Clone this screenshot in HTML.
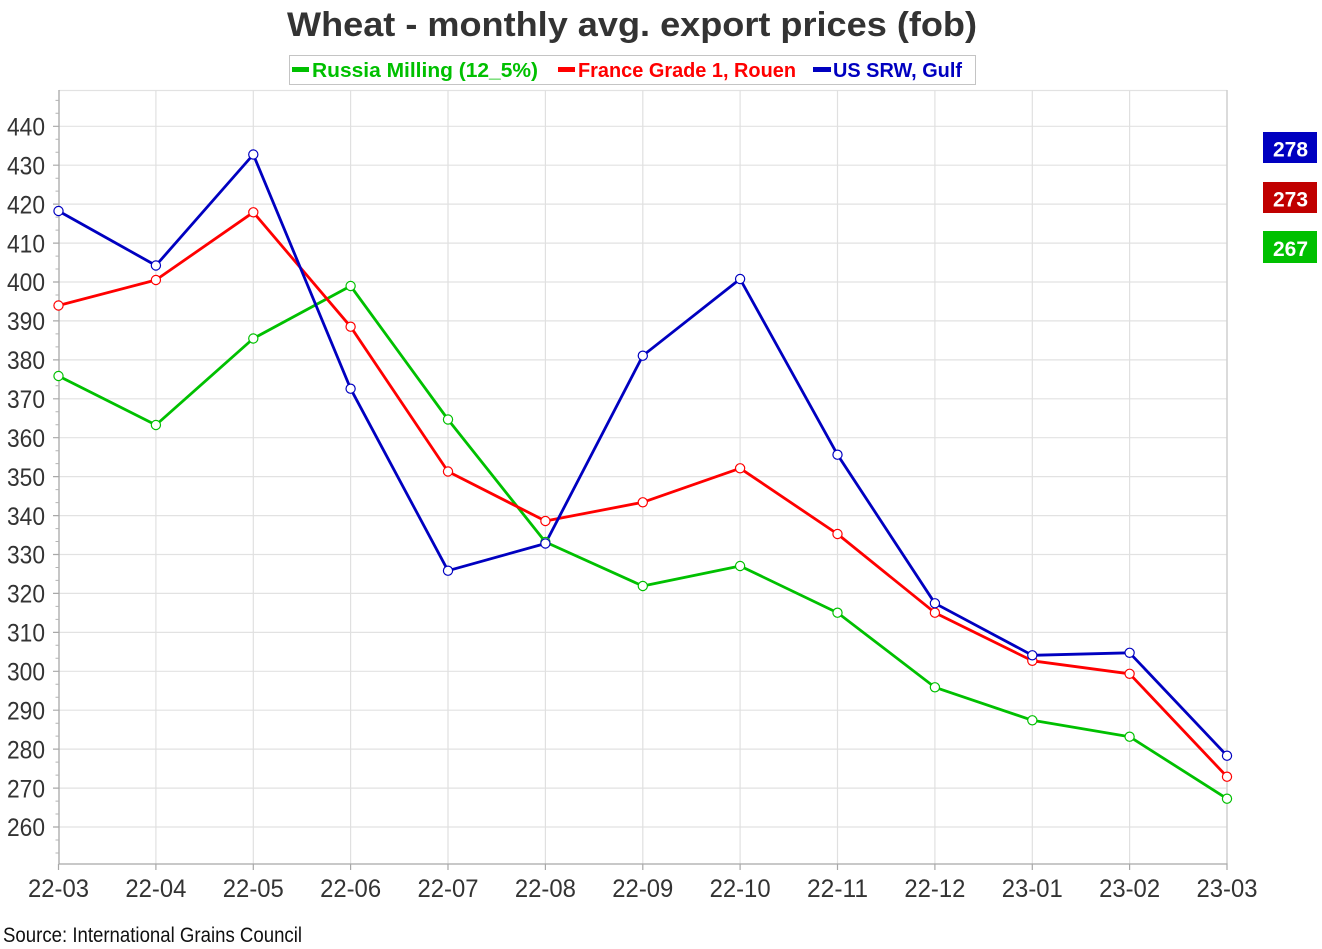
<!DOCTYPE html>
<html>
<head>
<meta charset="utf-8">
<style>
  html, body { margin:0; padding:0; background:#fff; }
  svg { display:block; }
  text { font-family: "Liberation Sans", "DejaVu Sans", sans-serif; }
</style>
</head>
<body>
<svg width="1322" height="949" viewBox="0 0 1322 949" xmlns="http://www.w3.org/2000/svg">
  <rect x="0" y="0" width="1322" height="949" fill="#fff"/>

  <!-- Title -->
  <text x="287" y="36" font-size="34" font-weight="bold" fill="#333" textLength="690" lengthAdjust="spacingAndGlyphs">Wheat - monthly avg. export prices (fob)</text>

  <!-- Legend -->
  <rect x="289.5" y="55.5" width="686" height="29" fill="#fff" stroke="#c4c4c4" stroke-width="1"/>
  <rect x="292" y="67" width="17" height="5" fill="#00c000"/>
  <text x="312" y="77" font-size="20" font-weight="bold" fill="#00c000" textLength="226" lengthAdjust="spacingAndGlyphs">Russia Milling (12_5%)</text>
  <rect x="558" y="67" width="17" height="5" fill="#ff0000"/>
  <text x="578" y="77" font-size="20" font-weight="bold" fill="#ff0000" textLength="218" lengthAdjust="spacingAndGlyphs">France Grade 1, Rouen</text>
  <rect x="813" y="67" width="18" height="5" fill="#0000c0"/>
  <text x="833" y="77" font-size="20" font-weight="bold" fill="#0000c0" textLength="129" lengthAdjust="spacingAndGlyphs">US SRW, Gulf</text>

  <!-- Horizontal grid -->
  <g stroke="#e2e2e2" stroke-width="1.2">
    <path d="M59 90.5H1227M59 126.3H1227M59 165.2H1227M59 204.1H1227M59 243.1H1227M59 282H1227M59 320.9H1227M59 359.9H1227M59 398.8H1227M59 437.7H1227M59 476.6H1227M59 515.6H1227M59 554.5H1227M59 593.4H1227M59 632.4H1227M59 671.3H1227M59 710.2H1227M59 749.1H1227M59 788.1H1227M59 827H1227"/>
  </g>
  <!-- Vertical grid -->
  <g stroke="#e0e0e0" stroke-width="1.2">
    <path d="M155.9 90V864M253.3 90V864M350.6 90V864M448 90V864M545.4 90V864M642.8 90V864M740.1 90V864M837.5 90V864M934.9 90V864M1032.3 90V864M1129.6 90V864"/>
  </g>
  <line x1="1227" y1="90" x2="1227" y2="864" stroke="#cfcfcf" stroke-width="1.5"/>

  <!-- Axes -->
  <line x1="59" y1="90" x2="59" y2="864.5" stroke="#a8a8a8" stroke-width="1.3"/>
  <line x1="58.5" y1="864" x2="1227.5" y2="864" stroke="#a8a8a8" stroke-width="1.3"/>
  <path stroke="#a8a8a8" stroke-width="1.2" d="M53 126.3H59M53 165.2H59M53 204.1H59M53 243.1H59M53 282H59M53 320.9H59M53 359.9H59M53 398.8H59M53 437.7H59M53 476.6H59M53 515.6H59M53 554.5H59M53 593.4H59M53 632.4H59M53 671.3H59M53 710.2H59M53 749.1H59M53 788.1H59M53 827H59"/>
  <path stroke="#b4b4b4" stroke-width="1" d="M55.5 100.4H59M55.5 113.3H59M55.5 139.3H59M55.5 152.3H59M55.5 178.2H59M55.5 191.1H59M55.5 217.1H59M55.5 230.1H59M55.5 256.1H59M55.5 269H59M55.5 295H59M55.5 308H59M55.5 333.9H59M55.5 346.9H59M55.5 372.9H59M55.5 385.8H59M55.5 411.8H59M55.5 424.7H59M55.5 450.7H59M55.5 463.6H59M55.5 489.6H59M55.5 502.6H59M55.5 528.6H59M55.5 541.5H59M55.5 567.5H59M55.5 580.4H59M55.5 606.4H59M55.5 619.4H59M55.5 645.3H59M55.5 658.3H59M55.5 684.3H59M55.5 697.2H59M55.5 723.2H59M55.5 736.1H59M55.5 762.1H59M55.5 775.1H59M55.5 801.1H59M55.5 814H59M55.5 840H59M55.5 853H59"/>
  <path stroke="#a8a8a8" stroke-width="1.2" d="M58.5 864V870M155.9 864V870M253.3 864V870M350.6 864V870M448 864V870M545.4 864V870M642.8 864V870M740.1 864V870M837.5 864V870M934.9 864V870M1032.3 864V870M1129.6 864V870M1227 864V870"/>

  <!-- Y labels -->
  <g font-size="25" fill="#333" text-anchor="end">
    <text x="45" y="135.5" textLength="38" lengthAdjust="spacingAndGlyphs">440</text>
    <text x="45" y="174.4" textLength="38" lengthAdjust="spacingAndGlyphs">430</text>
    <text x="45" y="213.3" textLength="38" lengthAdjust="spacingAndGlyphs">420</text>
    <text x="45" y="252.3" textLength="38" lengthAdjust="spacingAndGlyphs">410</text>
    <text x="45" y="291.2" textLength="38" lengthAdjust="spacingAndGlyphs">400</text>
    <text x="45" y="330.1" textLength="38" lengthAdjust="spacingAndGlyphs">390</text>
    <text x="45" y="369.1" textLength="38" lengthAdjust="spacingAndGlyphs">380</text>
    <text x="45" y="408" textLength="38" lengthAdjust="spacingAndGlyphs">370</text>
    <text x="45" y="446.9" textLength="38" lengthAdjust="spacingAndGlyphs">360</text>
    <text x="45" y="485.8" textLength="38" lengthAdjust="spacingAndGlyphs">350</text>
    <text x="45" y="524.8" textLength="38" lengthAdjust="spacingAndGlyphs">340</text>
    <text x="45" y="563.7" textLength="38" lengthAdjust="spacingAndGlyphs">330</text>
    <text x="45" y="602.6" textLength="38" lengthAdjust="spacingAndGlyphs">320</text>
    <text x="45" y="641.6" textLength="38" lengthAdjust="spacingAndGlyphs">310</text>
    <text x="45" y="680.5" textLength="38" lengthAdjust="spacingAndGlyphs">300</text>
    <text x="45" y="719.4" textLength="38" lengthAdjust="spacingAndGlyphs">290</text>
    <text x="45" y="758.3" textLength="38" lengthAdjust="spacingAndGlyphs">280</text>
    <text x="45" y="797.3" textLength="38" lengthAdjust="spacingAndGlyphs">270</text>
    <text x="45" y="836.2" textLength="38" lengthAdjust="spacingAndGlyphs">260</text>
  </g>

  <!-- X labels -->
  <g font-size="25" fill="#333" text-anchor="middle">
    <text x="58.5" y="897" textLength="61" lengthAdjust="spacingAndGlyphs">22-03</text>
    <text x="155.9" y="897" textLength="61" lengthAdjust="spacingAndGlyphs">22-04</text>
    <text x="253.3" y="897" textLength="61" lengthAdjust="spacingAndGlyphs">22-05</text>
    <text x="350.6" y="897" textLength="61" lengthAdjust="spacingAndGlyphs">22-06</text>
    <text x="448" y="897" textLength="61" lengthAdjust="spacingAndGlyphs">22-07</text>
    <text x="545.4" y="897" textLength="61" lengthAdjust="spacingAndGlyphs">22-08</text>
    <text x="642.8" y="897" textLength="61" lengthAdjust="spacingAndGlyphs">22-09</text>
    <text x="740.1" y="897" textLength="61" lengthAdjust="spacingAndGlyphs">22-10</text>
    <text x="837.5" y="897" textLength="61" lengthAdjust="spacingAndGlyphs">22-11</text>
    <text x="934.9" y="897" textLength="61" lengthAdjust="spacingAndGlyphs">22-12</text>
    <text x="1032.3" y="897" textLength="61" lengthAdjust="spacingAndGlyphs">23-01</text>
    <text x="1129.6" y="897" textLength="61" lengthAdjust="spacingAndGlyphs">23-02</text>
    <text x="1227" y="897" textLength="61" lengthAdjust="spacingAndGlyphs">23-03</text>
  </g>

  <!-- Series -->
  <polyline fill="none" stroke="#00c000" stroke-width="2.8" stroke-linejoin="round"
    points="58.5,376 155.9,425 253.3,338.5 350.6,286 448,419.5 545.4,542 642.8,586 740.1,566 837.5,612.7 934.9,687.3 1032.3,720.3 1129.6,736.7 1227,798.7"/>
  <polyline fill="none" stroke="#ff0000" stroke-width="2.8" stroke-linejoin="round"
    points="58.5,305.5 155.9,280 253.3,212.3 350.6,326.7 448,471.5 545.4,521 642.8,502.3 740.1,468.3 837.5,534 934.9,612.7 1032.3,660.8 1129.6,673.8 1227,776.7"/>
  <polyline fill="none" stroke="#0000c0" stroke-width="2.8" stroke-linejoin="round"
    points="58.5,211 155.9,265.5 253.3,154.5 350.6,388.7 448,570.7 545.4,543.5 642.8,355.7 740.1,279 837.5,454.7 934.9,603.3 1032.3,655.3 1129.6,652.8 1227,755.7"/>

  <g fill="#fff" stroke="#00c000" stroke-width="1.2">
    <circle cx="58.5" cy="376" r="4.6"/><circle cx="155.9" cy="425" r="4.6"/><circle cx="253.3" cy="338.5" r="4.6"/>
    <circle cx="350.6" cy="286" r="4.6"/><circle cx="448" cy="419.5" r="4.6"/><circle cx="545.4" cy="542" r="4.6"/>
    <circle cx="642.8" cy="586" r="4.6"/><circle cx="740.1" cy="566" r="4.6"/><circle cx="837.5" cy="612.7" r="4.6"/>
    <circle cx="934.9" cy="687.3" r="4.6"/><circle cx="1032.3" cy="720.3" r="4.6"/><circle cx="1129.6" cy="736.7" r="4.6"/>
    <circle cx="1227" cy="798.7" r="4.6"/>
  </g>
  <g fill="#fff" stroke="#ff0000" stroke-width="1.2">
    <circle cx="58.5" cy="305.5" r="4.6"/><circle cx="155.9" cy="280" r="4.6"/><circle cx="253.3" cy="212.3" r="4.6"/>
    <circle cx="350.6" cy="326.7" r="4.6"/><circle cx="448" cy="471.5" r="4.6"/><circle cx="545.4" cy="521" r="4.6"/>
    <circle cx="642.8" cy="502.3" r="4.6"/><circle cx="740.1" cy="468.3" r="4.6"/><circle cx="837.5" cy="534" r="4.6"/>
    <circle cx="934.9" cy="612.7" r="4.6"/><circle cx="1032.3" cy="660.8" r="4.6"/><circle cx="1129.6" cy="673.8" r="4.6"/>
    <circle cx="1227" cy="776.7" r="4.6"/>
  </g>
  <g fill="#fff" stroke="#0000c0" stroke-width="1.2">
    <circle cx="58.5" cy="211" r="4.6"/><circle cx="155.9" cy="265.5" r="4.6"/><circle cx="253.3" cy="154.5" r="4.6"/>
    <circle cx="350.6" cy="388.7" r="4.6"/><circle cx="448" cy="570.7" r="4.6"/><circle cx="545.4" cy="543.5" r="4.6"/>
    <circle cx="642.8" cy="355.7" r="4.6"/><circle cx="740.1" cy="279" r="4.6"/><circle cx="837.5" cy="454.7" r="4.6"/>
    <circle cx="934.9" cy="603.3" r="4.6"/><circle cx="1032.3" cy="655.3" r="4.6"/><circle cx="1129.6" cy="652.8" r="4.6"/>
    <circle cx="1227" cy="755.7" r="4.6"/>
  </g>

  <!-- Value badges -->
  <rect x="1263" y="132" width="54" height="31" fill="#0000c0"/>
  <text x="1290.5" y="156.5" font-size="21" font-weight="bold" fill="#fff" text-anchor="middle" textLength="35" lengthAdjust="spacingAndGlyphs">278</text>
  <rect x="1263" y="182" width="54" height="31" fill="#c00000"/>
  <text x="1290.5" y="206.5" font-size="21" font-weight="bold" fill="#fff" text-anchor="middle" textLength="35" lengthAdjust="spacingAndGlyphs">273</text>
  <rect x="1263" y="231" width="54" height="32" fill="#00c000"/>
  <text x="1290.5" y="256" font-size="21" font-weight="bold" fill="#fff" text-anchor="middle" textLength="35" lengthAdjust="spacingAndGlyphs">267</text>

  <!-- Source -->
  <text x="3" y="942" font-size="21" fill="#111" textLength="299" lengthAdjust="spacingAndGlyphs">Source: International Grains Council</text>
</svg>
</body>
</html>
